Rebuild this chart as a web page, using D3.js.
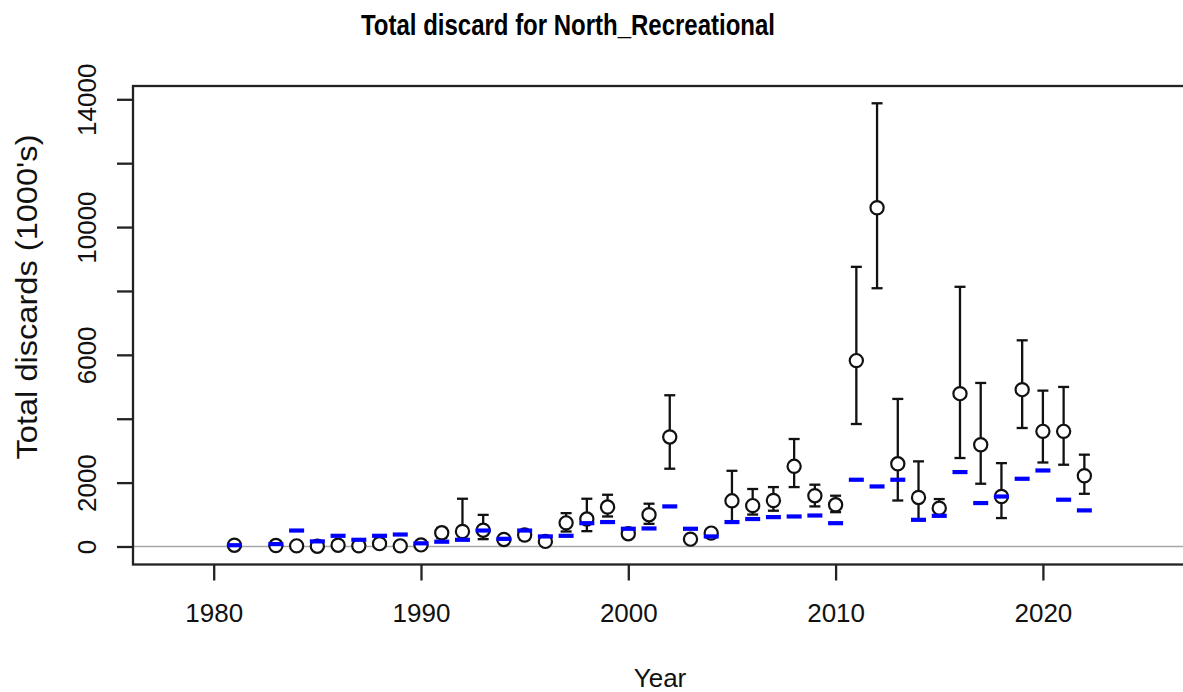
<!DOCTYPE html>
<html>
<head>
<meta charset="utf-8">
<script src="https://cdn.jsdelivr.net/npm/d3@7"></script>
<style>
  html, body { margin: 0; padding: 0; background: #fff; }
  svg { display: block; font-family: "Liberation Sans", Arial, sans-serif; }
</style>
</head>
<body>
<svg id="chart" width="1183" height="692"></svg>
<script>
// ---- data ----
const years = [1981,1983,1984,1985,1986,1987,1988,1989,1990,1991,1992,1993,1994,1995,1996,1997,1998,1999,2000,2001,2002,2003,2004,2005,2006,2007,2008,2009,2010,2011,2012,2013,2014,2015,2016,2017,2018,2019,2020,2021,2022];
const observed = [40,30,20,10,40,20,90,20,50,430,470,510,220,360,160,740,860,1235,400,995,3430,230,420,1430,1280,1440,2510,1590,1305,5820,10605,2590,1535,1200,4785,3185,1565,4910,3605,3605,2215];
const lower = [20,10,5,0,20,5,60,5,30,260,210,230,170,210,60,470,480,940,330,710,2435,180,350,785,1000,1120,1860,1255,1075,3835,8085,1440,835,995,2770,1965,890,3710,2630,2560,1650];
const upper = [60,50,40,30,60,40,120,40,70,580,1495,990,270,500,250,1045,1495,1620,470,1340,4735,280,500,2370,1800,1860,3365,1935,1590,8755,13875,4620,2665,1485,8130,5120,2610,6455,4880,4995,2875];
const expected = [40,75,500,160,335,210,335,375,100,150,210,500,240,500,315,335,730,765,555,565,1255,555,315,765,860,920,940,970,730,2090,1880,2090,835,960,2330,1360,1565,2120,2380,1465,1130];
const xTicks = [1980,1990,2000,2010,2020];
const yTicks = [0,2000,4000,6000,8000,10000,12000,14000];
const yTickLabels = ["0","2000","","6000","","10000","","14000"];
const titleText = "Total discard for North_Recreational";
const xLabel = "Year";
const yLabel = "Total discards (1000's)";

// ---- layout ----
const svg = d3.select("#chart");
const box = {left: 133, right: 1205, top: 86, bottom: 564.5};
const x = d3.scaleLinear().domain([1980, 2020]).range([213.7, 1042.9]);
const y = d3.scaleLinear().domain([0, 14000]).range([546.5, 99.3]);

const data = years.map((yr, i) => ({yr, obs: observed[i], lo: lower[i], hi: upper[i], exp: expected[i]}));

// zero reference line
svg.append("line")
  .attr("x1", box.left).attr("x2", box.right)
  .attr("y1", y(0)).attr("y2", y(0))
  .attr("stroke", "#a8a8a8").attr("stroke-width", 1.5);

// error bars
const eb = svg.append("g").attr("stroke", "#111").attr("stroke-width", 2.3).attr("fill", "none");
data.forEach(d => {
  eb.append("line").attr("x1", x(d.yr)).attr("x2", x(d.yr)).attr("y1", y(d.lo)).attr("y2", y(d.hi));
  eb.append("line").attr("x1", x(d.yr) - 5.5).attr("x2", x(d.yr) + 5.5).attr("y1", y(d.hi)).attr("y2", y(d.hi));
  eb.append("line").attr("x1", x(d.yr) - 5.5).attr("x2", x(d.yr) + 5.5).attr("y1", y(d.lo)).attr("y2", y(d.lo));
});

// observed points
svg.append("g").selectAll("circle").data(data).join("circle")
  .attr("cx", d => x(d.yr)).attr("cy", d => y(d.obs)).attr("r", 6.6)
  .attr("fill", "#fff").attr("stroke", "#111").attr("stroke-width", 2.2);

// expected dashes
svg.append("g").selectAll("line").data(data).join("line")
  .attr("x1", d => x(d.yr) - 7.5).attr("x2", d => x(d.yr) + 7.5)
  .attr("y1", d => y(d.exp)).attr("y2", d => y(d.exp))
  .attr("stroke", "#0000ff").attr("stroke-width", 4.2);

// box
svg.append("rect")
  .attr("x", box.left).attr("y", box.top)
  .attr("width", box.right - box.left).attr("height", box.bottom - box.top)
  .attr("fill", "none").attr("stroke", "#222").attr("stroke-width", 2.3);

// x axis
const xAxis = svg.append("g")
  .attr("transform", `translate(0,${box.bottom})`)
  .call(d3.axisBottom(x).tickValues(xTicks).tickFormat(d3.format("d")).tickSize(16).tickSizeOuter(0));
xAxis.select(".domain").remove();
xAxis.selectAll(".tick line").attr("stroke", "#222").attr("stroke-width", 2.3);
xAxis.selectAll(".tick text")
  .attr("dy", null).attr("y", 57.5)
  .attr("font-size", 26).attr("font-family", "Liberation Sans, Arial, sans-serif").attr("fill", "#111");

// y axis
const yAxis = svg.append("g")
  .attr("transform", `translate(${box.left},0)`)
  .call(d3.axisLeft(y).tickValues(yTicks).tickFormat((d, i) => yTickLabels[i]).tickSize(16).tickSizeOuter(0));
yAxis.select(".domain").remove();
yAxis.selectAll(".tick line").attr("stroke", "#222").attr("stroke-width", 2.3);
yAxis.selectAll(".tick text")
  .attr("x", null).attr("dy", null)
  .attr("transform", "translate(-37,0) rotate(-90)")
  .attr("text-anchor", "middle")
  .attr("font-size", 26).attr("font-family", "Liberation Sans, Arial, sans-serif").attr("fill", "#111");

// title
svg.append("text")
  .attr("x", 568).attr("y", 34.5)
  .attr("text-anchor", "middle")
  .attr("font-size", 30).attr("font-weight", "bold")
  .attr("textLength", 414).attr("lengthAdjust", "spacingAndGlyphs")
  .attr("fill", "#000")
  .text(titleText);

// x label
svg.append("text")
  .attr("x", 660).attr("y", 687)
  .attr("text-anchor", "middle")
  .attr("font-size", 26).attr("fill", "#111")
  .text(xLabel);

// y label
svg.append("text")
  .attr("transform", "translate(37,297) rotate(-90)")
  .attr("text-anchor", "middle")
  .attr("font-size", 29).attr("fill", "#111")
  .attr("textLength", 325).attr("lengthAdjust", "spacingAndGlyphs")
  .text(yLabel);
</script>
</body>
</html>
